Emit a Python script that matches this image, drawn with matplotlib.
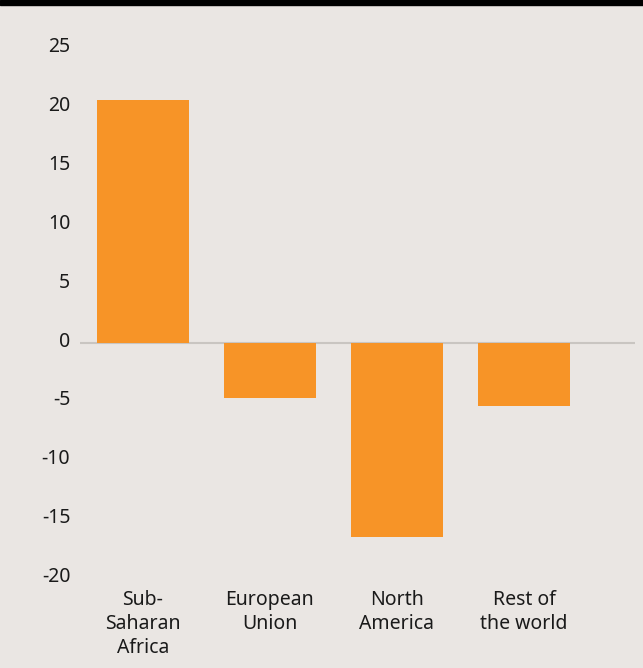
import matplotlib.pyplot as plt
from matplotlib.patches import Rectangle
from matplotlib.transforms import ScaledTranslation

regions = ["Sub-\nSaharan\nAfrica", "European\nUnion", "North\nAmerica", "Rest of\nthe world"]
change = [20.6, -4.7, -16.5, -5.35]
yticks = [25, 20, 15, 10, 5, 0, -5, -10, -15, -20]

bg = "#eae6e3"
orange = "#f79427"
plt.rcParams['font.family'] = ['Noto Sans', 'DejaVu Sans']

fig = plt.figure(figsize=(6.43, 6.68), dpi=100, facecolor=bg)
ax = fig.add_axes([80 / 643, 0.1338, 555 / 643, 0.7936])
ax.set_facecolor(bg)

x = list(range(len(regions)))
ax.bar(x, change, width=0.724, color=orange, zorder=2)
ax.axhline(0, color="#c9c5c1", lw=1.5, zorder=1)

ax.set_xlim(-0.496, 3.874)
ax.set_ylim(-20, 25)
ax.set_yticks(yticks)
ax.set_yticklabels([str(v) for v in yticks])
ax.set_xticks(x)
ax.set_xticklabels(regions, linespacing=1.28)

ax.tick_params(axis='y', length=0, pad=7, labelsize=14, labelcolor="#1a1a1a")
ax.tick_params(axis='x', length=0, pad=8, labelsize=14, labelcolor="#1a1a1a")
for lab in ax.get_yticklabels():
    lab.set_transform(lab.get_transform() + ScaledTranslation(0, 4 / 100, fig.dpi_scale_trans))

for s in ax.spines.values():
    s.set_visible(False)

# black strip along the top edge
fig.add_artist(Rectangle((0, 1 - 5 / 668), 1, 5 / 668, transform=fig.transFigure,
                         color="black", zorder=5))

fig.savefig("out.png", dpi=100, facecolor=bg)
